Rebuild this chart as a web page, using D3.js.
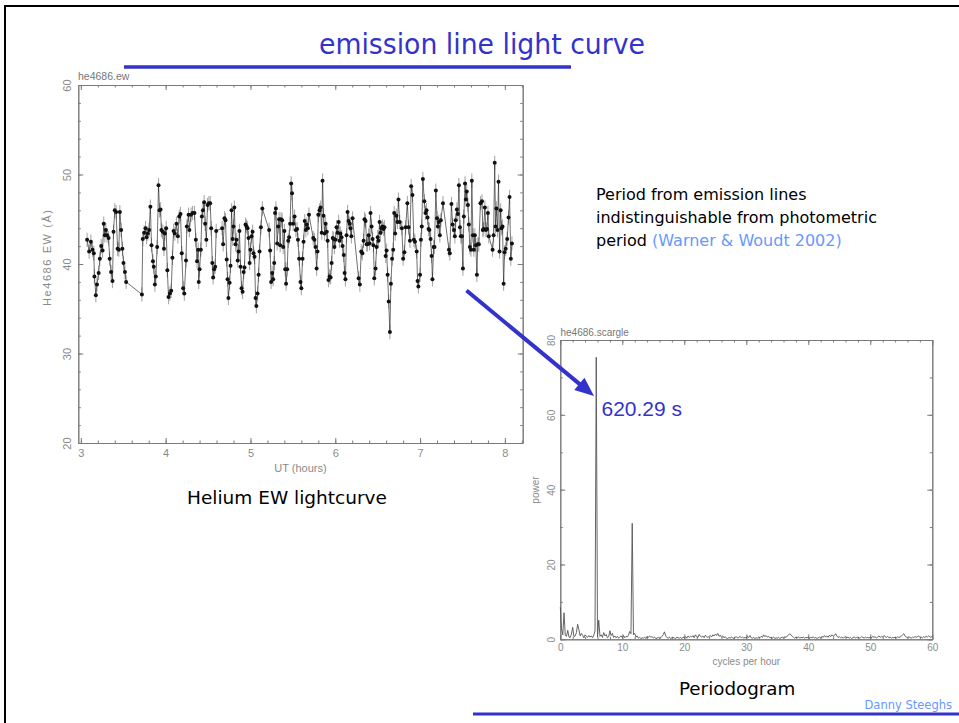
<!DOCTYPE html>
<html>
<head>
<meta charset="utf-8">
<script src="https://cdn.jsdelivr.net/npm/d3@7"></script>
<style>
  html, body { margin: 0; padding: 0; background: #fff; }
  svg { display: block; }
</style>
</head>
<body>
<svg id="slide" width="959" height="723"></svg>
<script>
// He II 4686 equivalent-width light curve: UT (hours) and EW (Å)
const utHours = [
  3.074, 3.098, 3.118, 3.138, 3.153, 3.160, 3.177, 3.190, 3.210, 3.224, 3.240, 3.256, 3.270, 3.283, 3.295, 3.310,
  3.327, 3.340, 3.357, 3.373, 3.385, 3.400, 3.416, 3.433, 3.448, 3.460, 3.475, 3.490, 3.503, 3.520, 3.534, 3.720,
  3.730, 3.747, 3.763, 3.775, 3.790, 3.805, 3.820, 3.833, 3.850, 3.860, 3.873, 3.884, 3.900, 3.916, 3.928, 3.940,
  3.950, 3.966, 3.980, 3.990, 4.006, 4.020, 4.034, 4.050, 4.065, 4.080, 4.093, 4.108, 4.128, 4.144, 4.160, 4.175,
  4.190, 4.206, 4.220, 4.240, 4.250, 4.270, 4.280, 4.300, 4.317, 4.340, 4.356, 4.370, 4.383, 4.390, 4.400, 4.415,
  4.427, 4.440, 4.454, 4.466, 4.480, 4.494, 4.510, 4.525, 4.537, 4.550, 4.560, 4.572, 4.584, 4.596, 4.666, 4.678,
  4.694, 4.706, 4.720, 4.730, 4.740, 4.754, 4.765, 4.777, 4.790, 4.800, 4.810, 4.824, 4.836, 4.850, 4.860, 4.870,
  4.883, 4.895, 4.907, 4.920, 4.930, 4.942, 4.954, 4.966, 4.977, 4.990, 5.000, 5.013, 5.025, 5.036, 5.048, 5.060,
  5.070, 5.084, 5.096, 5.107, 5.123, 5.140, 5.220, 5.232, 5.244, 5.256, 5.268, 5.280, 5.290, 5.300, 5.315, 5.327,
  5.338, 5.350, 5.360, 5.374, 5.386, 5.400, 5.410, 5.420, 5.433, 5.445, 5.456, 5.468, 5.480, 5.490, 5.504, 5.520,
  5.535, 5.550, 5.560, 5.574, 5.590, 5.600, 5.614, 5.626, 5.640, 5.653, 5.665, 5.677, 5.690, 5.740, 5.754, 5.767,
  5.780, 5.790, 5.800, 5.815, 5.827, 5.840, 5.850, 5.862, 5.874, 5.886, 5.900, 5.910, 5.920, 5.933, 5.945, 5.957,
  5.970, 5.980, 5.990, 6.003, 6.015, 6.027, 6.040, 6.050, 6.060, 6.074, 6.086, 6.100, 6.110, 6.120, 6.133, 6.145,
  6.157, 6.170, 6.180, 6.190, 6.204, 6.275, 6.290, 6.306, 6.320, 6.334, 6.345, 6.357, 6.370, 6.380, 6.393, 6.405,
  6.416, 6.428, 6.440, 6.450, 6.460, 6.475, 6.487, 6.500, 6.510, 6.522, 6.533, 6.546, 6.557, 6.570, 6.580, 6.594,
  6.605, 6.617, 6.630, 6.644, 6.656, 6.670, 6.683, 6.695, 6.706, 6.720, 6.733, 6.745, 6.760, 6.785, 6.800, 6.815,
  6.830, 6.850, 6.864, 6.880, 6.895, 6.910, 6.927, 6.940, 6.960, 6.970, 6.980, 7.000, 7.010, 7.020, 7.033, 7.050,
  7.064, 7.076, 7.088, 7.100, 7.110, 7.124, 7.136, 7.146, 7.160, 7.170, 7.186, 7.200, 7.210, 7.220, 7.233, 7.245,
  7.270, 7.340, 7.350, 7.370, 7.383, 7.400, 7.410, 7.420, 7.434, 7.446, 7.458, 7.470, 7.480, 7.493, 7.505, 7.516,
  7.530, 7.540, 7.550, 7.564, 7.575, 7.587, 7.600, 7.610, 7.623, 7.634, 7.646, 7.658, 7.670, 7.680, 7.693, 7.712,
  7.730, 7.740, 7.750, 7.764, 7.776, 7.788, 7.800, 7.810, 7.855, 7.867, 7.880, 7.890, 7.900, 7.913, 7.925, 7.937,
  7.950, 7.960, 7.972, 7.985, 7.996, 8.010, 8.027, 8.043, 8.055, 8.070, 8.083
];
const ewValues = [
  42.7, 41.4, 42.5, 41.6, 41.2, 38.6, 36.5, 37.7, 39.0, 40.6, 42.0, 41.5, 44.5, 43.2, 43.8, 43.2,
  42.9, 40.6, 39.1, 38.1, 43.6, 46.0, 45.8, 41.7, 41.6, 45.8, 43.8, 41.7, 40.1, 39.1, 38.0, 36.6,
  42.8, 43.5, 44.0, 43.0, 43.4, 43.8, 46.4, 42.1, 40.3, 39.7, 37.7, 38.6, 41.9, 48.8, 46.0, 46.1,
  43.8, 43.6, 41.7, 43.4, 44.0, 39.3, 36.3, 36.7, 37.0, 40.7, 43.7, 43.4, 44.5, 43.1, 45.3, 45.6,
  41.2, 37.3, 36.7, 40.4, 44.2, 45.5, 43.8, 45.5, 45.7, 45.7, 42.7, 40.3, 41.6, 38.0, 39.4, 41.6,
  45.3, 46.0, 46.9, 44.5, 42.7, 46.6, 46.8, 46.8, 44.0, 40.1, 38.5, 39.4, 39.7, 43.7, 44.0, 42.2,
  45.1, 44.9, 40.5, 38.3, 36.2, 37.9, 39.8, 46.0, 42.8, 44.2, 46.3, 42.2, 42.7, 40.4, 41.4, 43.7,
  39.7, 37.3, 36.9, 39.1, 39.6, 44.4, 44.2, 44.0, 42.9, 40.1, 41.6, 43.1, 43.6, 41.2, 40.8, 36.2,
  35.3, 36.7, 38.8, 41.4, 44.1, 46.2, 43.8, 41.5, 38.0, 39.0, 38.3, 40.1, 45.7, 46.2, 42.3, 44.2,
  45.0, 42.1, 45.0, 44.9, 41.9, 43.7, 39.4, 37.8, 39.4, 42.6, 43.0, 44.5, 49.0, 47.9, 44.5, 45.3,
  43.8, 43.9, 42.7, 40.6, 38.0, 37.3, 40.6, 42.5, 44.8, 43.8, 44.4, 44.0, 45.5, 42.9, 42.7, 41.9,
  39.5, 41.4, 45.5, 46.0, 46.3, 43.5, 49.3, 45.4, 43.4, 44.5, 43.6, 42.6, 38.2, 38.6, 38.5, 40.1,
  42.9, 42.8, 41.9, 42.7, 44.1, 43.5, 44.7, 42.6, 43.4, 43.0, 42.0, 41.0, 39.0, 38.3, 43.2, 45.8,
  44.8, 44.5, 44.0, 43.1, 45.1, 38.4, 37.7, 41.4, 41.2, 42.6, 45.0, 44.8, 42.2, 42.2, 43.2, 42.3,
  45.7, 44.2, 42.8, 42.1, 38.4, 39.5, 41.9, 43.0, 42.6, 44.7, 43.5, 44.0, 44.2, 43.9, 44.1, 40.9,
  41.5, 38.8, 35.8, 32.4, 37.8, 40.6, 41.6, 45.7, 43.4, 45.4, 44.7, 47.2, 44.7, 44.0, 40.6, 41.3,
  44.1, 46.8, 44.1, 42.6, 48.7, 47.7, 42.7, 42.5, 41.4, 38.1, 37.5, 38.8, 42.7, 44.2, 49.5, 47.0,
  45.7, 46.0, 45.2, 43.9, 43.8, 42.8, 40.9, 38.3, 41.9, 41.9, 48.2, 45.1, 44.2, 44.7, 43.2, 44.9,
  46.8, 41.6, 41.2, 46.7, 44.4, 43.8, 43.1, 44.9, 46.1, 45.6, 48.8, 44.1, 43.1, 43.1, 39.5, 45.3,
  49.0, 47.2, 48.1, 46.6, 44.4, 41.9, 41.6, 49.3, 43.2, 41.6, 43.2, 42.1, 38.8, 42.2, 42.2, 46.8,
  47.0, 43.8, 43.9, 46.3, 43.8, 43.9, 45.7, 43.1, 41.6, 43.2, 51.3, 44.2, 46.2, 43.8, 49.2, 41.4,
  46.0, 44.0, 44.2, 37.8, 41.3, 41.7, 42.8, 45.2, 47.5, 40.6, 42.3
];
const ewError = 0.8;

// Scargle periodogram: power on a regular frequency grid (cycles per hour)
const freqStart = 0;
const freqStep = 0.2;
const power = [
  8.6, 2.8, 1.2, 7.1, 1.0, 0.8, 2.4, 0.6, 0.5, 1.4, 3.2, 0.7, 0.9, 1.8, 4.0, 2.6, 0.9, 1.6, 1.1, 0.4, 1.2, 0.8, 0.5, 1.0, 0.6,
  0.9, 0.4, 1.1, 2.2, 75.4, 0.6, 5.1, 0.8, 1.2, 0.5, 1.8, 0.9, 1.3, 0.4, 0.7, 2.3, 1.0, 1.6, 0.5, 0.9, 0.4, 0.8, 0.3, 0.6, 0.9,
  0.5, 1.0, 0.4, 0.8, 0.6, 1.1, 2.1, 1.5, 31.0, 1.2, 1.6, 0.6, 0.9, 0.3, 0.5, 0.2, 0.4, 0.3, 0.6, 0.2, 0.8, 0.5, 0.9, 0.6, 0.7,
  0.4, 0.6, 0.2, 0.3, 0.5, 0.3, 0.4, 0.8, 1.2, 2.0, 0.9, 0.5, 0.3, 0.6, 0.2, 0.4, 0.5, 0.3, 0.2, 0.6, 0.4, 0.3, 0.5, 0.2, 0.6,
  0.4, 0.7, 0.3, 0.9, 0.5, 0.8, 0.6, 1.0, 0.4, 1.2, 0.7, 0.5, 1.3, 0.8, 0.6, 0.9, 0.4, 1.1, 0.7, 0.5, 0.8, 1.0, 0.6, 1.2, 0.9,
  1.4, 1.0, 1.6, 0.8, 1.1, 0.6, 0.9, 0.4, 0.7, 0.3, 0.2, 0.5, 0.3, 0.6, 0.4, 0.2, 0.5, 0.7, 0.3, 0.5, 0.8, 0.4, 0.6, 0.3, 0.5,
  0.4, 0.8, 0.5, 1.0, 0.4, 0.3, 0.5, 0.2, 0.4, 0.3, 0.6, 0.4, 0.8, 0.5, 1.2, 0.7, 1.0, 0.6, 0.8, 0.4, 0.5, 0.3, 0.6, 0.2, 0.4,
  0.3, 0.5, 0.2, 0.4, 0.6, 0.3, 0.7, 0.5, 0.9, 1.1, 1.5, 1.2, 0.8, 0.5, 0.3, 0.6, 0.4, 0.7, 0.3, 0.5, 0.4, 0.6, 0.3, 0.5, 0.4,
  0.6, 0.3, 0.5, 0.4, 0.7, 0.3, 0.5, 0.2, 0.4, 0.6, 0.3, 0.8, 0.5, 1.0, 0.6, 0.9, 0.5, 1.1, 0.7, 1.2, 0.8, 1.0, 1.5, 0.9, 0.5,
  0.7, 0.4, 0.6, 0.3, 0.5, 0.8, 0.4, 0.6, 0.3, 0.5, 0.2, 0.4, 0.7, 0.3, 0.5, 0.6, 0.3, 0.4, 0.7, 0.5, 0.3, 0.6, 0.4, 0.5, 0.3,
  0.6, 0.4, 0.8, 0.5, 0.7, 0.3, 0.6, 0.9, 0.5, 0.8, 0.6, 1.0, 0.7, 0.5, 0.8, 0.4, 0.6, 0.3, 0.5, 0.4, 0.6, 0.3, 0.7, 0.5, 0.6,
  0.8, 1.2, 1.5, 0.9, 0.6, 0.4, 0.7, 0.5, 0.3, 0.6, 0.4, 0.8, 0.5, 0.7, 0.9, 0.5, 0.6, 0.4, 0.7, 0.5, 0.8, 0.6, 0.9, 0.7, 0.5,
  0.9
];

// Axis ticks
const lcXMajor = [3, 4, 5, 6, 7, 8];
const lcYMajor = [20, 30, 40, 50, 60];
const pgXMajor = [0, 10, 20, 30, 40, 50, 60];
const pgYMajor = [0, 20, 40, 60, 80];

// Slide texts
const slideTitle = "emission line light curve";
const noteLines = ["Period from emission lines", "indistinguishable from photometric", "period "];
const noteRef = "(Warner & Woudt 2002)";
const peakLabel = "620.29 s";
const author = "Danny Steeghs";

const BLUE = "#3333cc";
const LIGHTBLUE = "#6699ff";
const AXIS = "#7a7a7a";
const LABEL = "#8a8a8a";
const plotFont = "'Liberation Sans', Arial, sans-serif";
const slideFont = "'DejaVu Sans', Verdana, sans-serif";

const svg = d3.select("#slide");

// slide frame
svg.append("path")
  .attr("d", "M5,723 V6 H959")
  .attr("fill", "none").attr("stroke", "#000").attr("stroke-width", 2);

// slide title and underline
svg.append("text")
  .attr("x", 319).attr("y", 54)
  .attr("textLength", 326).attr("lengthAdjust", "spacingAndGlyphs")
  .attr("font-family", "'Liberation Sans Narrow', 'DejaVu Sans Condensed', 'Liberation Sans', sans-serif")
  .attr("font-size", 29).attr("fill", BLUE)
  .text(slideTitle);
svg.append("line").attr("x1", 124).attr("x2", 571).attr("y1", 67).attr("y2", 67)
  .attr("stroke", BLUE).attr("stroke-width", 3.5);

// PGPLOT-style framed box with inward ticks on all sides
function drawBox(g, x, y, xMajor, xMinor, yMajor, yMinor, opts) {
  const [x0, x1] = x.range();
  const [y0, y1] = y.range(); // y0 bottom, y1 top
  const fmt = d3.format("d");
  const style = sel => {
    sel.select(".domain").attr("stroke", AXIS).attr("stroke-width", 1);
    sel.selectAll(".tick line").attr("stroke", AXIS).attr("stroke-width", 1);
    sel.selectAll(".tick text").attr("fill", LABEL).attr("font-family", plotFont).attr("font-size", opts.tickFont);
  };
  // bottom
  g.append("g").attr("transform", `translate(0,${y0})`)
    .call(d3.axisBottom(x).tickValues(xMinor).tickSize(-2.5).tickFormat("").tickSizeOuter(0)).call(style);
  g.append("g").attr("transform", `translate(0,${y0})`)
    .call(d3.axisBottom(x).tickValues(xMajor).tickSize(-5).tickSizeOuter(0).tickPadding(opts.xPad).tickFormat(fmt)).call(style);
  // top
  g.append("g").attr("transform", `translate(0,${y1})`)
    .call(d3.axisTop(x).tickValues(xMinor).tickSize(-2.5).tickFormat("").tickSizeOuter(0)).call(style);
  g.append("g").attr("transform", `translate(0,${y1})`)
    .call(d3.axisTop(x).tickValues(xMajor).tickSize(-5).tickFormat("").tickSizeOuter(0)).call(style);
  // left
  g.append("g").attr("transform", `translate(${x0},0)`)
    .call(d3.axisLeft(y).tickValues(yMinor).tickSize(-2.5).tickFormat("").tickSizeOuter(0)).call(style);
  const left = g.append("g").attr("transform", `translate(${x0},0)`)
    .call(d3.axisLeft(y).tickValues(yMajor).tickSize(-5).tickSizeOuter(0).tickFormat(fmt)).call(style);
  left.selectAll(".tick text")
    .attr("x", null).attr("dy", null)
    .attr("text-anchor", "middle")
    .attr("transform", `translate(${-opts.yPad},0) rotate(-90)`);
  // right
  g.append("g").attr("transform", `translate(${x1},0)`)
    .call(d3.axisRight(y).tickValues(yMinor).tickSize(-2.5).tickFormat("").tickSizeOuter(0)).call(style);
  g.append("g").attr("transform", `translate(${x1},0)`)
    .call(d3.axisRight(y).tickValues(yMajor).tickSize(-5).tickFormat("").tickSizeOuter(0)).call(style);
}

// ---------- light curve ----------
const lcX = d3.scaleLinear().domain([2.97, 8.21]).range([78.3, 522.7]);
const lcY = d3.scaleLinear().domain([20, 60]).range([443, 85]);
const lc = svg.append("g");
drawBox(lc, lcX, lcY, lcXMajor, d3.range(3, 8.21, 0.2), lcYMajor, d3.range(20, 60.1, 2),
  { tickFont: 11, xPad: 6, yPad: 7 });

const lcData = utHours.map((t, i) => ({ t, ew: ewValues[i] }));
lc.append("g").selectAll("line").data(lcData).join("line")
  .attr("x1", d => lcX(d.t)).attr("x2", d => lcX(d.t))
  .attr("y1", d => lcY(d.ew - ewError)).attr("y2", d => lcY(d.ew + ewError))
  .attr("stroke", "#aaa").attr("stroke-width", 1.1);
lc.append("path").datum(lcData)
  .attr("d", d3.line().x(d => lcX(d.t)).y(d => lcY(d.ew)))
  .attr("fill", "none").attr("stroke", "#333").attr("stroke-width", 0.7);
lc.append("g").selectAll("circle").data(lcData).join("circle")
  .attr("cx", d => lcX(d.t)).attr("cy", d => lcY(d.ew)).attr("r", 2)
  .attr("fill", "#111");

lc.append("text").attr("x", 78).attr("y", 80)
  .attr("font-family", plotFont).attr("font-size", 10.5).attr("fill", "#777").text("he4686.ew");
lc.append("text").attr("x", 300.5).attr("y", 472)
  .attr("text-anchor", "middle").attr("font-family", plotFont).attr("font-size", 11).attr("fill", LABEL)
  .text("UT (hours)");
lc.append("text").attr("transform", "translate(51,258) rotate(-90)")
  .attr("text-anchor", "middle").attr("font-family", plotFont).attr("font-size", 11).attr("fill", LABEL)
  .attr("textLength", 96).attr("lengthAdjust", "spacing")
  .text("He4686 EW (Å)");

svg.append("text").attr("x", 187).attr("y", 504)
  .attr("font-family", slideFont).attr("font-size", 18.5).attr("fill", "#000")
  .text("Helium EW lightcurve");

// ---------- periodogram ----------
const pgX = d3.scaleLinear().domain([0, 60]).range([560.3, 932.3]);
const pgY = d3.scaleLinear().domain([0, 80]).range([639.3, 340]);
const pg = svg.append("g");
drawBox(pg, pgX, pgY, pgXMajor, d3.range(0, 60.1, 2), pgYMajor, d3.range(0, 80.1, 10),
  { tickFont: 10, xPad: 4.5, yPad: 5 });

const pgData = power.map((p, i) => ({ f: freqStart + i * freqStep, p }));
pg.append("path").datum(pgData)
  .attr("d", d3.line().x(d => pgX(d.f)).y(d => pgY(d.p)))
  .attr("fill", "none").attr("stroke", "#555").attr("stroke-width", 0.9);

pg.append("text").attr("x", 560.5).attr("y", 335.5)
  .attr("font-family", plotFont).attr("font-size", 10).attr("fill", "#777").text("he4686.scargle");
pg.append("text").attr("x", 746.3).attr("y", 664.5)
  .attr("text-anchor", "middle").attr("font-family", plotFont).attr("font-size", 10).attr("fill", LABEL)
  .text("cycles per hour");
pg.append("text").attr("transform", "translate(538.5,490) rotate(-90)")
  .attr("text-anchor", "middle").attr("font-family", plotFont).attr("font-size", 10).attr("fill", LABEL)
  .text("power");

svg.append("text").attr("x", 679).attr("y", 695)
  .attr("font-family", slideFont).attr("font-size", 18.3).attr("fill", "#000")
  .text("Periodogram");

// ---------- annotations ----------
const note = svg.append("text").attr("font-family", slideFont).attr("font-size", 16).attr("fill", "#000");
noteLines.forEach((line, i) => {
  note.append("tspan").attr("x", 596).attr("y", 199.5 + i * 23.3).text(line);
  if (i === noteLines.length - 1) {
    note.append("tspan").attr("fill", LIGHTBLUE).text(noteRef);
  }
});

// arrow from the light curve towards the main periodogram peak
const arrowStart = [466.5, 290.5];
const arrowTip = [594, 396];
const dx = arrowTip[0] - arrowStart[0], dy = arrowTip[1] - arrowStart[1];
const len = Math.hypot(dx, dy), ux = dx / len, uy = dy / len;
const headLen = 19, headHalf = 8;
const base = [arrowTip[0] - ux * headLen, arrowTip[1] - uy * headLen];
svg.append("line")
  .attr("x1", arrowStart[0]).attr("y1", arrowStart[1])
  .attr("x2", base[0] + ux * 2).attr("y2", base[1] + uy * 2)
  .attr("stroke", BLUE).attr("stroke-width", 4);
svg.append("polygon")
  .attr("points", [
    arrowTip,
    [base[0] - uy * headHalf, base[1] + ux * headHalf],
    [base[0] + uy * headHalf, base[1] - ux * headHalf]
  ].map(p => p.join(",")).join(" "))
  .attr("fill", BLUE);

svg.append("text").attr("x", 601.5).attr("y", 415.5)
  .attr("font-family", "'Liberation Sans', Arial, sans-serif").attr("font-size", 21).attr("fill", BLUE)
  .text(peakLabel);

svg.append("text").attr("x", 952).attr("y", 708.5).attr("text-anchor", "end")
  .attr("font-family", slideFont).attr("font-size", 11.5).attr("fill", LIGHTBLUE)
  .text(author);
svg.append("line").attr("x1", 473).attr("x2", 959).attr("y1", 714).attr("y2", 714)
  .attr("stroke", BLUE).attr("stroke-width", 3);
</script>
</body>
</html>
